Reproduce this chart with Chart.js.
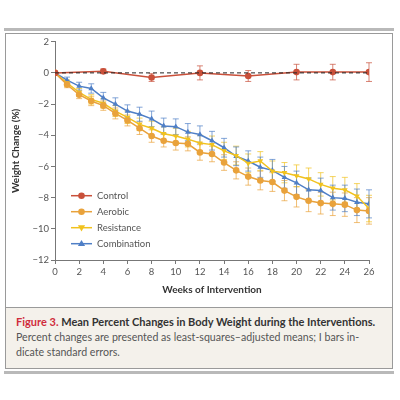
<!DOCTYPE html>
<html>
<head>
<meta charset="utf-8">
<script src="https://cdn.jsdelivr.net/npm/chart.js@4.4.0/dist/chart.umd.min.js"></script>
<style>
    html, body { margin: 0; padding: 0; background: #fff; }
    body { width: 400px; height: 400px; position: relative; font-family: Lato, "Open Sans", sans-serif; }
    #topBar { position: absolute; left: 4px; top: 28px; width: 390px; height: 3px; background: #b9b9b9; }
    #frame { position: absolute; left: 5px; top: 33px; width: 386px; height: 334px; border: 1px solid #9a9a9a; background: #fff; }
    #bottomBar { position: absolute; left: 4px; top: 371px; width: 390px; height: 3px; background: #b9b9b9; }
    #chartBox { position: absolute; left: 0; top: 0; width: 386px; height: 272px; }
    #caption { position: absolute; left: 0; top: 273px; width: 386px; height: 61px; background: #f4f1eb; border-top: 1px solid #9a9a9a; box-sizing: border-box; padding: 6px 0 0 10px; }
    #caption .t { font-size: 11px; font-weight: bold; color: #333; line-height: 15px; white-space: nowrap; }
    #caption .t span { color: #d02c3c; }
    #caption .b { font-size: 10.6px; color: #555; line-height: 15px; margin-top: 1px; white-space: nowrap; }
</style>
</head>
<body>
<div id="topBar"></div>
<div id="frame">
    <div id="chartBox"><canvas id="weightChart"></canvas></div>
    <div id="caption">
        <div class="t"><span>Figure 3.</span> Mean Percent Changes in Body Weight during the Interventions.</div>
        <div class="b">Percent changes are presented as least-squares–adjusted means; I bars in-<br>dicate standard errors.</div>
    </div>
</div>
<div id="bottomBar"></div>

<script>
// weeks of intervention
const weeks = [0, 1, 2, 3, 4, 5, 6, 7, 8, 9, 10, 11, 12, 13, 14, 15, 16, 17, 18, 19, 20, 21, 22, 23, 24, 25, 26];
const controlWeeks = [0, 4, 8, 12, 16, 20, 23, 26];

// mean percent change
const controlMean = [0, 0.1, -0.3, 0.0, -0.2, 0.05, 0.05, 0.05];
const aerobicMean = [0, -0.75, -1.4, -1.8, -2.1, -2.6, -3.05, -3.55, -4.05, -4.35, -4.5, -4.55, -5.1, -5.2, -5.75, -6.25, -6.65, -6.9, -7.0, -7.55, -7.95, -8.2, -8.35, -8.4, -8.45, -8.8, -8.85];
const resistanceMean = [0, -0.65, -1.25, -1.7, -1.95, -2.45, -2.85, -3.3, -3.55, -3.9, -4.05, -4.25, -4.5, -4.6, -5.0, -5.3, -5.8, -5.65, -6.3, -6.4, -6.6, -6.8, -7.15, -7.4, -7.5, -7.9, -8.7];
const combinationMean = [0, -0.47, -0.85, -1.0, -1.6, -2.0, -2.45, -2.65, -2.95, -3.4, -3.45, -3.8, -3.95, -4.35, -4.8, -5.35, -5.65, -6.05, -6.25, -6.7, -7.05, -7.5, -7.55, -8.0, -8.05, -8.3, -8.4];

// standard errors
const controlErr = [0, 0.15, 0.25, 0.45, 0.35, 0.5, 0.5, 0.6];
const aerobicErr = [0, 0.2, 0.25, 0.3, 0.3, 0.35, 0.35, 0.4, 0.4, 0.4, 0.45, 0.45, 0.5, 0.5, 0.5, 0.55, 0.55, 0.6, 0.6, 0.65, 0.65, 0.7, 0.7, 0.75, 0.75, 0.8, 0.85];
const resistanceErr = [0, 0.2, 0.25, 0.3, 0.3, 0.35, 0.4, 0.4, 0.45, 0.45, 0.5, 0.5, 0.5, 0.55, 0.55, 0.6, 0.6, 0.6, 0.65, 0.65, 0.7, 0.7, 0.75, 0.75, 0.8, 0.8, 0.85];
const combinationErr = [0, 0.2, 0.25, 0.3, 0.35, 0.4, 0.4, 0.45, 0.5, 0.5, 0.5, 0.55, 0.55, 0.6, 0.6, 0.6, 0.65, 0.65, 0.7, 0.7, 0.75, 0.75, 0.8, 0.8, 0.85, 0.85, 0.9];

const yTicks = [2, 0, -2, -4, -6, -8, -10, -12];

const RED = '#c9503a';
const ORANGE = '#e9a23b';
const YELLOW = '#f1c21e';
const BLUE = '#4f7fc6';

function toPoints(xs, ys) {
    return xs.map((x, i) => ({ x: x, y: ys[i] }));
}

function makeSeries(label, xs, ys, errs, color, style, rotation) {
    return {
        label: label,
        data: toPoints(xs, ys),
        errors: errs,
        borderColor: color,
        backgroundColor: color,
        borderWidth: 1.5,
        pointStyle: style,
        rotation: rotation,
        pointRadius: 3.3,
        pointBorderWidth: 0,
        tension: 0
    };
}

// draws the I bars from each dataset's errors array
const errorBars = {
    id: 'errorBars',
    beforeDatasetsDraw(chart) {
        const ctx = chart.ctx;
        const xs = chart.scales.x;
        const ys = chart.scales.y;
        chart.data.datasets.forEach((ds) => {
            if (!ds.errors) return;
            ctx.save();
            ctx.strokeStyle = ds.borderColor;
            ctx.globalAlpha = 0.7;
            ctx.lineWidth = 1;
            ds.data.forEach((p, i) => {
                const e = ds.errors[i];
                if (!e) return;
                const px = xs.getPixelForValue(p.x);
                const top = ys.getPixelForValue(p.y + e);
                const bot = ys.getPixelForValue(p.y - e);
                ctx.beginPath();
                ctx.moveTo(px, top); ctx.lineTo(px, bot);
                ctx.moveTo(px - 3, top); ctx.lineTo(px + 3, top);
                ctx.moveTo(px - 3, bot); ctx.lineTo(px + 3, bot);
                ctx.stroke();
            });
            ctx.restore();
        });
    }
};

// legend inside the plot, lower left
const innerLegend = {
    id: 'innerLegend',
    afterDraw(chart) {
        const ctx = chart.ctx;
        const area = chart.chartArea;
        const items = chart.data.datasets.filter(ds => ds.errors);
        ctx.save();
        ctx.font = '9.5px Lato, "Open Sans", sans-serif';
        ctx.textBaseline = 'middle';
        items.forEach((ds, i) => {
            const x0 = area.left + 16;
            const y = area.top + 154 + i * 16;
            ctx.strokeStyle = ds.borderColor;
            ctx.lineWidth = 1.5;
            ctx.beginPath();
            ctx.moveTo(x0, y); ctx.lineTo(x0 + 21, y);
            ctx.stroke();
            ctx.fillStyle = ds.borderColor;
            const cx = x0 + 10.5;
            ctx.beginPath();
            if (ds.pointStyle === 'circle') {
                ctx.arc(cx, y, 3.3, 0, Math.PI * 2);
            } else {
                const s = ds.rotation === 180 ? -1 : 1;
                ctx.moveTo(cx, y - 3.8 * s);
                ctx.lineTo(cx + 3.6, y + 2.4 * s);
                ctx.lineTo(cx - 3.6, y + 2.4 * s);
                ctx.closePath();
            }
            ctx.fill();
            ctx.fillStyle = '#555';
            ctx.fillText(ds.label, x0 + 26, y);
        });
        ctx.restore();
    }
};

const ctx = document.getElementById('weightChart');

new Chart(ctx, {
    type: 'line',
    data: {
        datasets: [
            {
                label: 'zero',
                data: toPoints([0, 26], [0, 0]),
                borderColor: '#222',
                borderWidth: 1,
                borderDash: [4, 3],
                pointRadius: 0
            },
            makeSeries('Control', controlWeeks, controlMean, controlErr, RED, 'circle', 0),
            makeSeries('Aerobic', weeks, aerobicMean, aerobicErr, ORANGE, 'circle', 0),
            makeSeries('Resistance', weeks, resistanceMean, resistanceErr, YELLOW, 'triangle', 180),
            makeSeries('Combination', weeks, combinationMean, combinationErr, BLUE, 'triangle', 0)
        ]
    },
    options: {
        responsive: true,
        maintainAspectRatio: false,
        animation: false,
        layout: { padding: { top: 7, right: 23, bottom: 6, left: 0 } },
        plugins: {
            legend: { display: false },
            tooltip: { enabled: false }
        },
        scales: {
            x: {
                type: 'linear',
                min: 0,
                max: 26,
                afterFit: (s) => { s.height = 40; },
                ticks: { stepSize: 2, color: '#555', font: { family: 'Lato', size: 9.5 }, padding: 2 },
                grid: { drawOnChartArea: false, tickLength: 4, color: '#777' },
                border: { color: '#777', width: 1 },
                title: { display: true, text: 'Weeks of Intervention', color: '#333', font: { family: 'Lato', size: 10, weight: 'bold' }, padding: { top: 6 } }
            },
            y: {
                min: -12,
                max: 2,
                afterFit: (s) => { s.width = 49; },
                afterBuildTicks: (s) => { s.ticks = yTicks.map(v => ({ value: v })); },
                ticks: {
                    color: '#555',
                    font: { family: 'Lato', size: 9.5 },
                    padding: 2,
                    callback: (v) => (v < 0 ? '\u2212' + Math.abs(v) : String(v))
                },
                grid: { drawOnChartArea: false, tickLength: 4, color: '#777' },
                border: { color: '#777', width: 1 },
                title: { display: true, text: 'Weight Change (%)', color: '#333', font: { family: 'Lato', size: 10, weight: 'bold' }, padding: { bottom: 6 } }
            }
        }
    },
    plugins: [errorBars, innerLegend]
});
</script>
</body>
</html>
